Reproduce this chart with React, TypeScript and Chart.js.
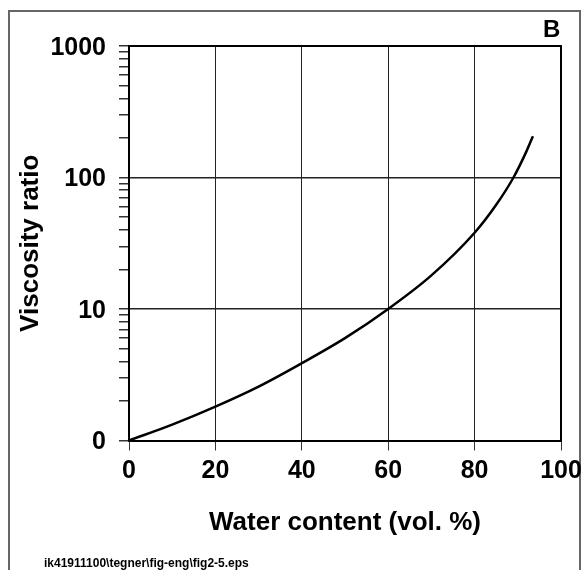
import React, { useEffect, useRef } from 'react';
import { Chart, registerables } from 'chart.js';

Chart.register(...registerables);

// ---- Data ----
const waterContent = [0, 10, 20, 30, 40, 50, 60, 70, 80, 85, 89, 92, 93.5];
const viscosityRatio = [1, 1.32, 1.81, 2.57, 3.87, 6.0, 10, 18, 38, 62, 100, 158, 206];

const xTickValues = [0, 20, 40, 60, 80, 100];
const xGridValues = [20, 40, 60, 80];
const yMajorValues = [1, 10, 100, 1000];
const yTickLabels = ['0', '10', '100', '1000'];
const yGridValues = [10, 100];
const yDecades = [1, 10, 100];
const yMinorSteps = [1, 2, 3, 4, 5, 6, 7, 8, 9];

const xTitle = 'Water content (vol. %)';
const yTitle = 'Viscosity ratio';
const panelLabel = 'B';
const footerText = 'ik41911100\\tegner\\fig-eng\\fig2-5.eps';

const FONT = '"Liberation Sans", Arial, Helvetica, sans-serif';

const yAllTicks: number[] = [];
yDecades.forEach((d) => yMinorSteps.forEach((k) => yAllTicks.push(d * k)));
yAllTicks.push(1000);

const borderPlugin = {
  id: 'plotBorder',
  afterDatasetsDraw(chart: any) {
    const { ctx, chartArea } = chart;
    const { left, top, right, bottom } = chartArea;
    ctx.save();
    ctx.strokeStyle = '#000';
    ctx.lineWidth = 2;
    ctx.beginPath();
    ctx.moveTo(left, top);
    ctx.lineTo(right, top);
    ctx.lineTo(right, bottom);
    ctx.stroke();
    ctx.restore();
  },
};

export default function App() {
  const canvasRef = useRef<HTMLCanvasElement | null>(null);

  useEffect(() => {
    document.body.style.margin = '0';
    const canvas = canvasRef.current;
    if (!canvas) return;
    const chart = new Chart(canvas, {
      type: 'line',
      data: {
        datasets: [
          {
            data: waterContent.map((x, i) => ({ x, y: viscosityRatio[i] })),
            borderColor: '#000',
            borderWidth: 2.5,
            pointRadius: 0,
            fill: false,
            cubicInterpolationMode: 'monotone',
          },
        ],
      },
      options: {
        animation: false,
        responsive: false,
        devicePixelRatio: 1,
        layout: { padding: { left: 0, top: 46, right: 39, bottom: 0 } },
        plugins: {
          legend: { display: false },
          tooltip: { enabled: false },
        },
        scales: {
          x: {
            type: 'linear',
            min: 0,
            max: 100,
            afterBuildTicks: (scale: any) => {
              scale.ticks = xTickValues.map((v) => ({ value: v }));
            },
            afterFit: (scale: any) => {
              scale.height = 129.5;
            },
            grid: {
              color: (c: any) =>
                c.tick && xGridValues.includes(c.tick.value) ? '#222' : 'rgba(0,0,0,0)',
              tickColor: '#333',
              tickLength: 10,
              lineWidth: 1,
            },
            border: { color: '#000', width: 2 },
            ticks: {
              color: '#000',
              padding: 6,
              maxRotation: 0,
              autoSkip: false,
              font: { family: FONT, size: 25, weight: 'bold' },
            },
            title: {
              display: true,
              text: xTitle,
              color: '#000',
              padding: { top: 0, bottom: 32 },
              font: { family: FONT, size: 26, weight: 'bold' },
            },
          },
          y: {
            type: 'logarithmic',
            min: 1,
            max: 1000,
            afterBuildTicks: (scale: any) => {
              scale.ticks = yAllTicks.map((v) => ({ value: v }));
            },
            afterFit: (scale: any) => {
              scale.width = 129;
            },
            grid: {
              color: (c: any) =>
                c.tick && yGridValues.includes(c.tick.value) ? '#222' : 'rgba(0,0,0,0)',
              tickColor: '#333',
              tickLength: 10,
              lineWidth: 1.5,
            },
            border: { color: '#000', width: 2 },
            ticks: {
              color: '#000',
              padding: 13,
              labelOffset: 2,
              autoSkip: false,
              font: { family: FONT, size: 25, weight: 'bold' },
              callback: (value: any) => {
                const i = yMajorValues.indexOf(Number(value));
                return i >= 0 ? yTickLabels[i] : '';
              },
            },
            title: {
              display: true,
              text: yTitle,
              color: '#000',
              padding: { top: 15, bottom: 0 },
              font: { family: FONT, size: 26, weight: 'bold' },
            },
          },
        },
      } as any,
      plugins: [borderPlugin],
    });
    return () => chart.destroy();
  }, []);

  return (
    <div style={{ position: 'relative', width: 581, height: 570, overflow: 'hidden', background: '#fff' }}>
      <div
        style={{
          position: 'absolute',
          left: 8,
          top: 10,
          width: 573,
          height: 620,
          border: '2px solid #666',
          boxSizing: 'border-box',
        }}
      />
      <canvas
        ref={canvasRef}
        width={600}
        height={570}
        style={{ position: 'absolute', left: 0, top: 0, width: 600, height: 570, display: 'block' }}
      />
      <div
        style={{
          position: 'absolute',
          left: 543,
          top: 17,
          fontFamily: FONT,
          fontWeight: 'bold',
          fontSize: 24,
          lineHeight: 1,
          color: '#000',
        }}
      >
        {panelLabel}
      </div>
      <div
        style={{
          position: 'absolute',
          left: 44,
          top: 557,
          fontFamily: FONT,
          fontWeight: 'bold',
          fontSize: 12,
          lineHeight: 1,
          color: '#000',
          whiteSpace: 'nowrap',
        }}
      >
        {footerText}
      </div>
    </div>
  );
}
